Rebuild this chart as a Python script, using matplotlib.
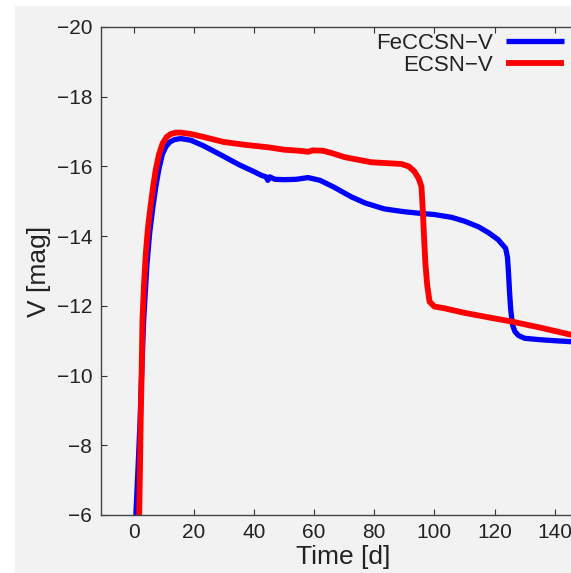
import matplotlib
matplotlib.use("Agg")
import matplotlib.pyplot as plt
from matplotlib.patches import Rectangle

# ---- data ----
fe_t = [0.7, 1.5, 2.1, 2.6, 3.3, 3.7, 4.4, 5.3, 6.3, 7.3, 8.3, 9.5, 10.7,
        12.0, 13.5, 15.7, 19.0, 23.0, 29.0, 35.0, 40.0, 42.3, 44.0, 44.6,
        45.2, 47.0, 50.0, 54.0, 58.0, 62.0, 66.7, 72.3, 77.0, 83.4, 90.0,
        94.6, 100.0, 105.7, 110.0, 114.6, 118.0, 121.2, 123.7, 124.3, 124.6,
        125.0, 125.4, 126.0, 126.8, 128.0, 130.0, 135.0, 140.0, 146.0, 150.0]
fe_v = [-6.0, -7.5, -8.7, -10.0, -11.6, -12.2, -13.2, -14.1, -14.8, -15.4,
        -15.9, -16.35, -16.57, -16.7, -16.77, -16.8, -16.75, -16.6, -16.33,
        -16.05, -15.85, -15.75, -15.7, -15.6, -15.7, -15.63, -15.62, -15.63,
        -15.68, -15.6, -15.4, -15.13, -14.95, -14.78, -14.7, -14.66, -14.62,
        -14.54, -14.43, -14.27, -14.1, -13.9, -13.65, -13.4, -13.03, -12.4,
        -11.88, -11.45, -11.26, -11.15, -11.07, -11.03, -11.0, -10.97, -10.95]

ec_t = [1.8, 2.1, 2.3, 2.6, 2.9, 3.4, 4.0, 4.8, 5.7, 6.5, 7.3, 8.4, 9.6,
        11.0, 12.3, 14.0, 15.7, 19.0, 23.0, 30.0, 37.0, 44.6, 50.0, 55.0,
        58.0, 59.5, 63.0, 66.0, 70.0, 72.3, 79.0, 85.0, 89.0, 91.5, 93.4,
        94.8, 95.7, 96.2, 96.6, 97.0, 97.6, 98.4, 100.0, 103.4, 110.0, 118.0,
        125.7, 135.0, 146.0, 150.0]
ec_v = [-6.0, -7.5, -8.7, -10.0, -11.6, -12.6, -13.5, -14.3, -14.94, -15.45,
        -15.9, -16.35, -16.66, -16.85, -16.93, -16.97, -16.97, -16.93, -16.85,
        -16.7, -16.62, -16.55, -16.48, -16.45, -16.42, -16.46, -16.45, -16.38,
        -16.27, -16.23, -16.12, -16.09, -16.07, -16.0, -15.85, -15.65, -15.42,
        -14.66, -13.9, -13.23, -12.6, -12.12, -11.98, -11.93, -11.8, -11.67,
        -11.55, -11.38, -11.16, -11.08]

x_ticks = [0, 20, 40, 60, 80, 100, 120, 140]
y_ticks = [-20, -18, -16, -14, -12, -10, -8, -6]

# ---- figure ----
bg = "#f2f2f2"
plt.rcParams["font.family"] = ["Liberation Sans", "DejaVu Sans"]
fig = plt.figure(figsize=(5.71, 5.73), dpi=100, facecolor="white")
fig.patches.append(Rectangle((15 / 571, 0), 1, 1 - 6 / 573, transform=fig.transFigure,
                             facecolor=bg, edgecolor="none", zorder=-10))

# axes runs past the right edge of the picture (cropped like the reference)
ax = fig.add_axes([100.7 / 571, 58 / 573, 484 / 571, 488 / 573])
ax.set_facecolor(bg)

ax.plot(fe_t, fe_v, color="#0000ff", lw=3.8, label="FeCCSN\u2212V", solid_capstyle="butt")
ax.plot(ec_t, ec_v, color="#ff0000", lw=4.2, label="ECSN\u2212V", solid_capstyle="butt")

ax.set_xlim(-11, 150)
ax.set_ylim(-6, -20)
ax.set_xticks(x_ticks)
ax.set_yticks(y_ticks)

ax.set_xlabel("Time [d]", fontsize=19, color="#222222", labelpad=2)
ax.set_ylabel("V [mag]", fontsize=19, color="#222222", labelpad=4)

ax.tick_params(axis="both", which="both", direction="in", length=4, width=0.8,
               labelsize=15, colors="#333333", labelcolor="#222222", pad=6,
               top=True, right=True)
for s in ax.spines.values():
    s.set_color("#444444")
    s.set_linewidth(1.0)

leg = ax.legend(loc="upper right", bbox_to_anchor=(0.975, 1.006), frameon=False,
                markerfirst=False, fontsize=16, handlelength=2.6, handletextpad=0.6,
                labelspacing=0.05, borderaxespad=0.0)
for t in leg.get_texts():
    t.set_color("#222222")

plt.savefig("out.png", dpi=100, facecolor=fig.get_facecolor())
plt.close()
